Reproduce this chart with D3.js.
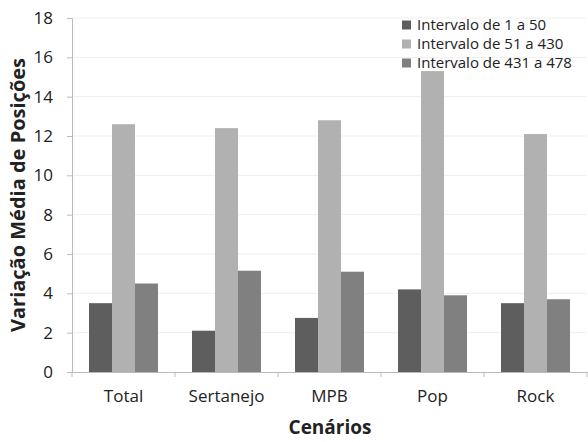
<!DOCTYPE html>
<html>
<head>
<meta charset="utf-8">
<script src="https://cdn.jsdelivr.net/npm/d3@7"></script>
<style>
  html, body { margin: 0; padding: 0; background: #fff; }
  svg { display: block; }
  text { font-family: "Open Sans", "Noto Sans", sans-serif; fill: #222; }
</style>
</head>
<body>
<svg id="chart" width="588" height="442"></svg>
<script>
// Cenários e séries
const categories = ["Total", "Sertanejo", "MPB", "Pop", "Rock"];
const seriesNames = ["Intervalo de 1 a 50", "Intervalo de 51 a 430", "Intervalo de 431 a 478"];
const interval1to50 = [3.5, 2.1, 2.75, 4.2, 3.5];
const interval51to430 = [12.6, 12.4, 12.8, 15.3, 12.1];
const interval431to478 = [4.5, 5.15, 5.1, 3.9, 3.7];
const yTicks = [0, 2, 4, 6, 8, 10, 12, 14, 16, 18];
const colors = ["#5e5e5e", "#b1b1b1", "#808080"];

const seriesValues = [interval1to50, interval51to430, interval431to478];

const svg = d3.select("#chart");
const margin = { left: 72, right: 1, top: 18 };
const W = 588;
const plotBottom = 372;

const x = d3.scaleBand().domain(categories).range([margin.left, W - margin.right]).paddingInner(0).paddingOuter(0);
const xInner = d3.scaleBand().domain(d3.range(seriesNames.length)).range([0, x.bandwidth()]).paddingInner(0).paddingOuter(0.74);
const y = d3.scaleLinear().domain([0, 18]).range([plotBottom, margin.top]);

// gridlines
svg.append("g")
  .selectAll("line")
  .data(yTicks.filter(d => d > 0))
  .join("line")
  .attr("x1", margin.left).attr("x2", W - margin.right)
  .attr("y1", d => y(d)).attr("y2", d => y(d))
  .attr("stroke", "#efefef").attr("stroke-width", 1);

// bars
const groups = svg.append("g")
  .selectAll("g")
  .data(categories)
  .join("g")
  .attr("transform", d => `translate(${x(d)},0)`);

groups.selectAll("rect")
  .data((c, i) => seriesValues.map((vals, s) => ({ s, v: vals[i] })))
  .join("rect")
  .attr("x", d => xInner(d.s))
  .attr("width", xInner.bandwidth())
  .attr("y", d => y(d.v))
  .attr("height", d => plotBottom - y(d.v))
  .attr("fill", d => colors[d.s]);

// y axis
const yAxis = svg.append("g")
  .attr("transform", `translate(${margin.left},0)`)
  .call(d3.axisLeft(y).tickValues(yTicks).tickSize(5).tickPadding(14).tickFormat(d3.format("d")));
yAxis.select(".domain").attr("stroke", "#bbb");
yAxis.selectAll(".tick line").attr("stroke", "#bbb");
yAxis.selectAll(".tick text").attr("font-size", 17).attr("fill", "#222")
  .style("font-family", "'Open Sans', sans-serif");

// x axis
const xAxis = svg.append("g")
  .attr("transform", `translate(0,${plotBottom})`)
  .call(d3.axisBottom(x).tickSize(0).tickPadding(18));
xAxis.select(".domain").attr("stroke", "#bbb");
xAxis.selectAll(".tick text").attr("font-size", 17).attr("fill", "#222")
  .style("font-family", "'Open Sans', sans-serif");
// category boundary ticks
xAxis.append("g")
  .selectAll("line")
  .data(categories.map(c => x(c)).concat([x(categories[categories.length - 1]) + x.bandwidth()]))
  .join("line")
  .attr("x1", d => d).attr("x2", d => d)
  .attr("y1", 0).attr("y2", 5)
  .attr("stroke", "#bbb");

// axis titles
svg.append("text")
  .attr("x", 330)
  .attr("y", 434)
  .attr("text-anchor", "middle")
  .attr("font-size", 19).attr("font-weight", "bold")
  .text("Cenários");

svg.append("text")
  .attr("transform", `translate(25,${(margin.top + plotBottom) / 2}) rotate(-90)`)
  .attr("text-anchor", "middle")
  .attr("font-size", 20).attr("font-weight", "bold")
  .text("Variação Média de Posições");

// legend
const legend = svg.append("g").attr("transform", "translate(402,25)");
const items = legend.selectAll("g")
  .data(seriesNames)
  .join("g")
  .attr("transform", (d, i) => `translate(0,${i * 19})`);
items.append("rect")
  .attr("x", 0).attr("y", -4.5).attr("width", 9).attr("height", 9)
  .attr("fill", (d, i) => colors[i]);
items.append("text")
  .attr("x", 15).attr("y", 0).attr("dy", "0.35em")
  .attr("font-size", 15)
  .text(d => d);
</script>
</body>
</html>
